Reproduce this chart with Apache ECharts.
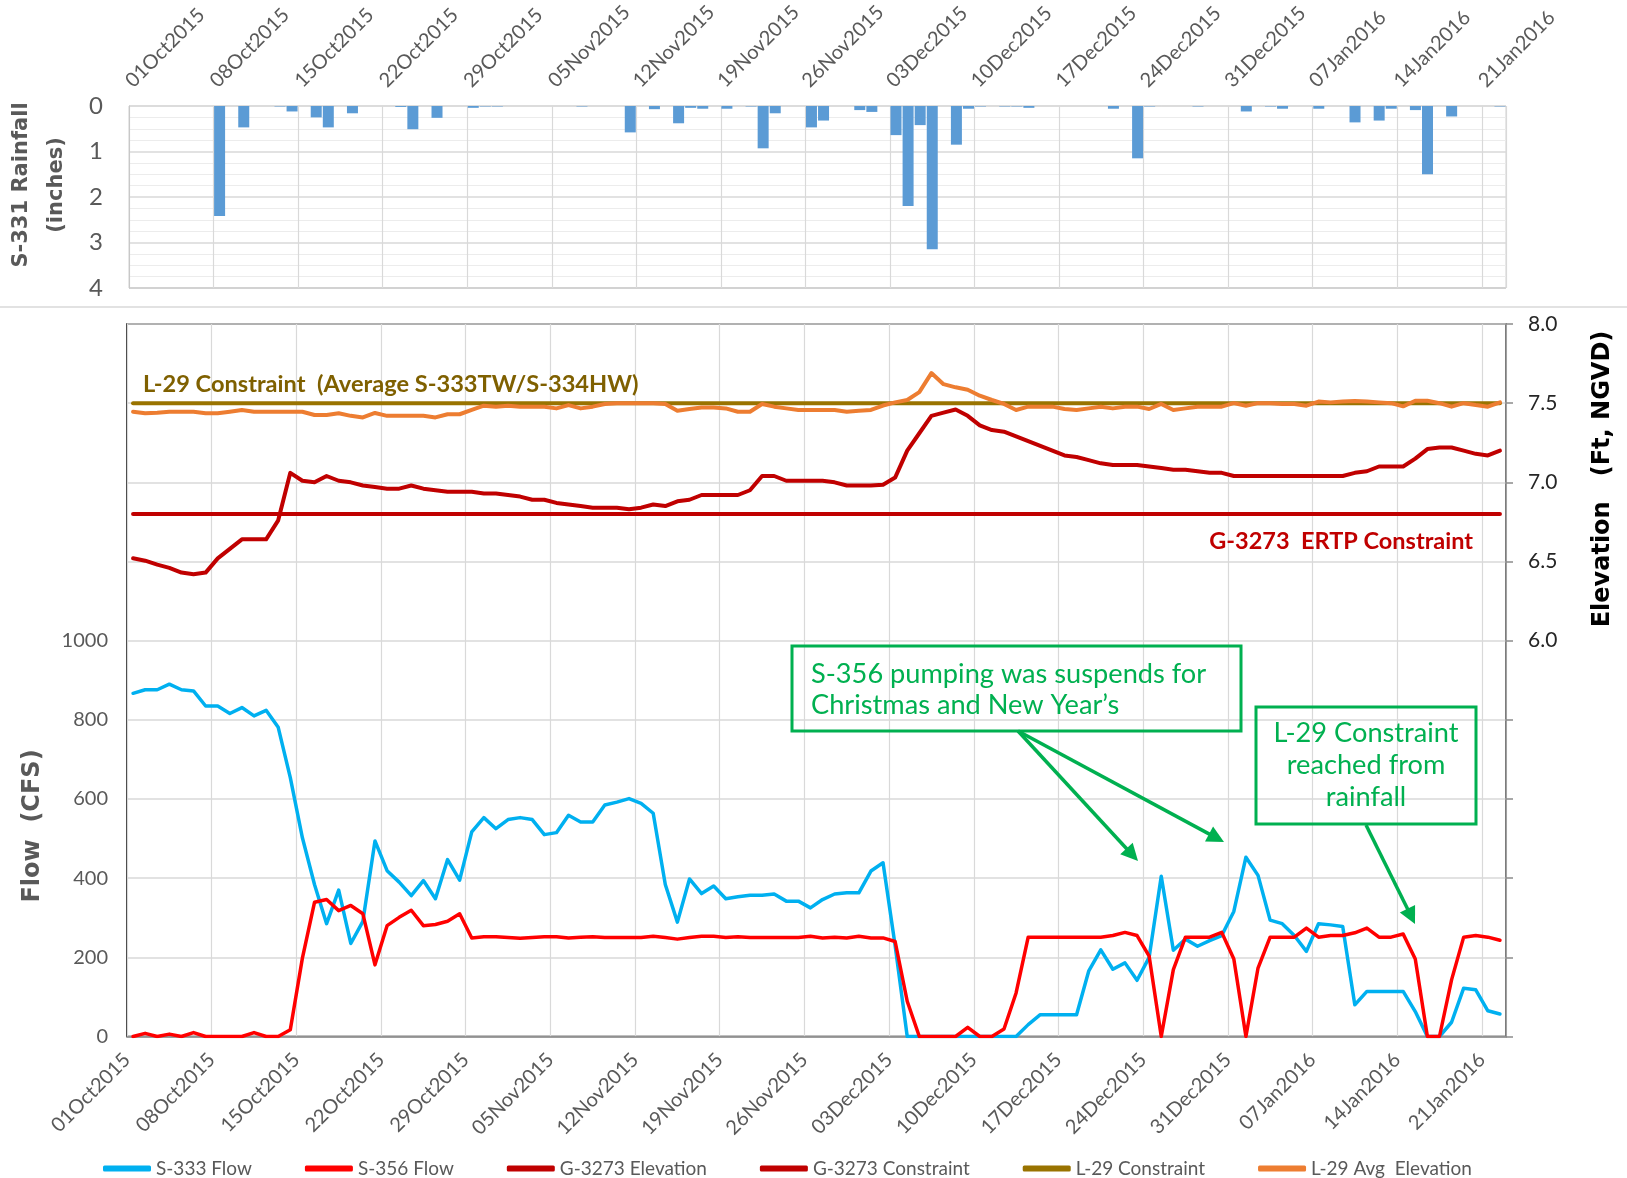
<!DOCTYPE html>
<html><head><meta charset="utf-8">
<script src="https://cdn.jsdelivr.net/npm/echarts@6/dist/echarts.min.js"></script>
<style>html,body{margin:0;padding:0;background:#fff}#c{width:1627px;height:1178px}</style>
</head><body><div id="c"></div>
<script>
// ---- data ----
const tickLabels = ['01Oct2015','08Oct2015','15Oct2015','22Oct2015','29Oct2015','05Nov2015','12Nov2015',
  '19Nov2015','26Nov2015','03Dec2015','10Dec2015','17Dec2015','24Dec2015','31Dec2015','07Jan2016','14Jan2016','21Jan2016'];
const dayCount = 114; // 01Oct2015 .. 22Jan2016

const rainfall = [
  0,0,0,0,0,0,0,2.42,0,0.47,
  0,0,0.01,0.12,0,0.25,0.47,0,0.16,0,
  0,0,0.02,0.51,0,0.26,0,0,0.04,0.01,
  0.01,0,0,0,0,0,0,0.01,0,0,
  0,0.58,0,0.07,0,0.38,0.04,0.06,0,0.06,
  0,0.01,0.93,0.16,0,0,0.47,0.32,0,0,
  0.09,0.13,0,0.64,2.2,0.42,3.15,0,0.85,0.06,
  0.01,0,0.01,0.01,0.04,0,0,0,0,0,
  0,0.06,0,1.15,0.01,0,0,0,0.01,0,
  0,0,0.12,0,0.01,0.06,0,0,0.06,0,
  0,0.36,0,0.32,0.06,0,0.09,1.5,0,0.23,
  0,0,0,0.01
];
const s333Flow = [
  867,876,876,890,876,873,835,835,816,831,
  810,824,781,654,502,384,285,370,235,291,
  494,419,390,356,394,348,447,395,517,553,
  525,548,553,548,510,515,559,542,542,585,
  592,601,589,564,384,289,398,361,380,348,
  353,357,357,360,342,342,325,346,360,363,
  363,418,439,230,0,0,0,0,0,0,
  0,0,0,0,30,55,55,55,55,165,
  219,170,186,142,200,405,218,246,228,242,
  255,316,453,407,294,285,255,215,285,282,
  278,80,114,114,114,114,63,0,0,36,
  122,118,65,57
];
const s356Flow = [
  0,8,0,6,0,10,0,0,0,0,
  10,0,0,17,198,339,346,318,331,310,
  181,280,301,319,280,283,291,310,249,252,
  252,250,248,250,252,252,249,251,252,250,
  250,250,250,253,250,246,250,253,253,250,
  252,250,250,250,250,250,253,249,251,249,
  253,249,249,240,89,0,0,0,0,23,
  0,0,19,110,251,251,251,251,251,251,
  251,255,263,255,203,0,169,251,251,251,
  263,196,0,173,251,251,251,274,251,255,
  255,262,274,251,251,259,196,0,0,143,
  251,255,251,243
];
const g3273Elev = [
  6.52,6.505,6.48,6.46,6.43,6.42,6.43,6.52,6.58,6.64,
  6.64,6.64,6.76,7.06,7.01,7.00,7.04,7.01,7.00,6.98,
  6.97,6.96,6.96,6.98,6.96,6.95,6.94,6.94,6.94,6.93,
  6.93,6.92,6.91,6.89,6.89,6.87,6.86,6.85,6.84,6.84,
  6.84,6.83,6.84,6.86,6.85,6.88,6.89,6.92,6.92,6.92,
  6.92,6.95,7.04,7.04,7.01,7.01,7.01,7.01,7.00,6.98,
  6.98,6.98,6.985,7.03,7.20,7.31,7.42,7.44,7.46,7.42,
  7.36,7.33,7.32,7.29,7.26,7.23,7.20,7.17,7.16,7.14,
  7.12,7.11,7.11,7.11,7.10,7.09,7.08,7.08,7.07,7.06,
  7.06,7.04,7.04,7.04,7.04,7.04,7.04,7.04,7.04,7.04,
  7.04,7.06,7.07,7.10,7.10,7.10,7.15,7.21,7.22,7.22,
  7.20,7.18,7.17,7.20
];
const l29AvgElev = [
  7.446,7.436,7.44,7.446,7.446,7.446,7.436,7.436,7.446,7.457,
  7.446,7.446,7.446,7.446,7.446,7.425,7.425,7.436,7.42,7.41,
  7.438,7.42,7.42,7.42,7.42,7.41,7.43,7.43,7.457,7.484,
  7.478,7.484,7.478,7.478,7.478,7.467,7.488,7.467,7.478,7.495,
  7.5,7.5,7.5,7.5,7.495,7.452,7.463,7.473,7.473,7.467,
  7.446,7.446,7.495,7.478,7.467,7.457,7.457,7.457,7.457,7.446,
  7.452,7.457,7.485,7.505,7.52,7.57,7.69,7.62,7.6,7.585,
  7.547,7.52,7.495,7.457,7.478,7.478,7.478,7.463,7.457,7.467,
  7.478,7.467,7.478,7.478,7.463,7.495,7.457,7.467,7.478,7.478,
  7.478,7.5,7.484,7.5,7.5,7.495,7.495,7.484,7.51,7.505,
  7.51,7.513,7.51,7.505,7.5,7.48,7.515,7.515,7.5,7.478,
  7.5,7.488,7.478,7.505
];
const g3273Constraint = 6.8;
const l29Constraint = 7.5;
const rainTicks = [0,1,2,3,4];
const flowTickLabels = ['0','200','400','600','800','1000'];
const elevTickLabels = ['6.0','6.5','7.0','7.5','8.0'];
const legendNames = ['S-333 Flow','S-356 Flow','G-3273 Elevation','G-3273 Constraint','L-29 Constraint','L-29 Avg  Elevation'];

[rainfall,s333Flow,s356Flow,g3273Elev,l29AvgElev].forEach((a,k)=>{ if(a.length!==dayCount) throw new Error('len '+k+' '+a.length); });

// ---- build ----
const pts = arr => arr.map((v,i)=>[i+0.5, v]);
const constPts = c => rainfall.map((_,i)=>[i+0.5, c]);
const dateFmt = v => (v % 7 === 0 && tickLabels[v/7] !== undefined) ? tickLabels[v/7] : '';
const GREEN = '#00B050';
const GRAY = '#595959';
const LF = 'Lato';

function arrow(x1,y1,x2,y2){
  const dx=x2-x1, dy=y2-y1, L=Math.hypot(dx,dy), ux=dx/L, uy=dy/L;
  const hl=17, hw=8.5, bx=x2-ux*hl, by=y2-uy*hl;
  return [
    {type:'line', z:100, shape:{x1:x1,y1:y1,x2:bx+ux*2,y2:by+uy*2}, style:{stroke:GREEN, lineWidth:3.5}},
    {type:'polygon', z:100, shape:{points:[[x2,y2],[bx-uy*hw,by+ux*hw],[bx+uy*hw,by-ux*hw]]}, style:{fill:GREEN}}
  ];
}

const lineS = (name, data, color, width, yIdx) => ({
  name, type:'line', xAxisIndex:1, yAxisIndex:yIdx, data, color, symbol:'none',
  lineStyle:{width, color, join:'round', cap:'round'}, emphasis:{disabled:true}
});

const option = {
  animation:false,
  backgroundColor:'#fff',
  grid:[
    {left:129, right:121, top:106, height:182, show:true, borderColor:'#d0d0d0', borderWidth:1, outerBoundsMode:'none'},
    {left:127, right:121, top:324, height:712.5, show:true, borderColor:'#000', borderWidth:1.5, outerBoundsMode:'none'}
  ],
  xAxis:[
    {gridIndex:0, type:'value', position:'top', min:0, max:dayCount, interval:7,
     axisLine:{show:false}, axisTick:{show:false},
     axisLabel:{rotate:45, formatter:dateFmt, margin:22, fontSize:20, color:GRAY, fontFamily:LF, showMaxLabel:false},
     splitLine:{show:true, lineStyle:{color:'#d9d9d9', width:1.2}}},
    {gridIndex:1, type:'value', position:'bottom', min:0, max:dayCount, interval:7,
     axisLine:{show:true, onZero:false, lineStyle:{color:'#8c8c8c', width:1.5}}, axisTick:{show:false},
     axisLabel:{rotate:45, formatter:dateFmt, margin:20, fontSize:20, color:GRAY, fontFamily:LF, showMaxLabel:false},
     splitLine:{show:true, lineStyle:{color:'#d9d9d9', width:1.2}}}
  ],
  yAxis:[
    {gridIndex:0, type:'value', inverse:true, min:rainTicks[0], max:rainTicks[rainTicks.length-1], interval:1,
     axisLine:{show:true, lineStyle:{color:'#c8c8c8'}}, axisTick:{show:false},
     axisLabel:{fontSize:24, color:GRAY, fontFamily:LF, margin:26},
     splitLine:{show:true, lineStyle:{color:'#d9d9d9', width:1.5}},
     minorTick:{show:false, splitNumber:4}, minorSplitLine:{show:true, lineStyle:{color:'#ececec', width:1.2}}},
    {gridIndex:1, type:'value', position:'left', min:0, max:1800, interval:200,
     axisLine:{show:false}, axisTick:{show:false},
     axisLabel:{fontSize:20, color:GRAY, fontFamily:LF, margin:19,
       formatter: v => flowTickLabels[v/200] || ''},
     splitLine:{show:true, lineStyle:{color:'#d9d9d9', width:1.5}}},
    {gridIndex:1, type:'value', position:'right', min:3.5, max:8, interval:0.5,
     axisLine:{show:true, lineStyle:{color:'#8c8c8c', width:1.5}},
     axisTick:{show:true, inside:false, length:7, lineStyle:{color:'#8c8c8c', width:1.5}},
     axisLabel:{fontSize:21, color:'#262626', fontFamily:LF, margin:22,
       formatter: v => { const s=v.toFixed(1); return elevTickLabels.indexOf(s)>=0 ? s : ''; }},
     splitLine:{show:false}}
  ],
  legend:{
    data:legendNames, left:98, top:1154, itemWidth:48, itemHeight:6, itemGap:53, icon:'roundRect',
    textStyle:{fontFamily:LF, fontSize:19, color:GRAY}, selectedMode:false
  },
  series:[
    {name:'S-331 Rainfall', type:'bar', xAxisIndex:0, yAxisIndex:0, data:pts(rainfall), barWidth:11,
     itemStyle:{color:'#5B9BD5'}, emphasis:{disabled:true}},
    lineS('S-333 Flow', pts(s333Flow), '#00B0F0', 3.5, 1),
    lineS('S-356 Flow', pts(s356Flow), '#FF0000', 3.5, 1),
    lineS('G-3273 Constraint', constPts(g3273Constraint), '#C00000', 4, 2),
    lineS('G-3273 Elevation', pts(g3273Elev), '#C00000', 4, 2),
    lineS('L-29 Constraint', constPts(l29Constraint), '#997300', 4, 2),
    lineS('L-29 Avg  Elevation', pts(l29AvgElev), '#ED7D31', 4, 2)
  ],
  graphic:[
    {type:'line', shape:{x1:0,y1:307,x2:1627,y2:307}, style:{stroke:'#d9d9d9', lineWidth:1.5}},
    {type:'line', shape:{x1:129,y1:288,x2:1506,y2:288}, style:{stroke:'#bfbfbf', lineWidth:2}},
    {type:'text', x:22, y:185, rotation:Math.PI/2, style:{text:'S-331 Rainfall', fontFamily:'DejaVu Sans', fontWeight:'bold', fontSize:21, fill:GRAY, align:'center', verticalAlign:'middle'}},
    {type:'text', x:57, y:185, rotation:Math.PI/2, style:{text:'(inches)', fontFamily:'DejaVu Sans', fontWeight:'bold', fontSize:21, fill:GRAY, align:'center', verticalAlign:'middle'}},
    {type:'text', x:33, y:826, rotation:Math.PI/2, style:{text:'Flow  (CFS)', fontFamily:'DejaVu Sans', fontWeight:'bold', fontSize:24, fill:GRAY, align:'center', verticalAlign:'middle'}},
    {type:'text', x:1603, y:479, rotation:Math.PI/2, style:{text:'Elevation   (Ft, NGVD)', fontFamily:'DejaVu Sans', fontWeight:'bold', fontSize:24, fill:'#000', align:'center', verticalAlign:'middle'}},
    {type:'text', z:100, x:143, y:384, style:{text:'L-29 Constraint  (Average S-333TW/S-334HW)', fontFamily:LF, fontWeight:'bold', fontSize:23.6, fill:'#7F6000', align:'left', verticalAlign:'middle'}},
    {type:'text', z:100, x:1473, y:541, style:{text:'G-3273  ERTP Constraint', fontFamily:LF, fontWeight:'bold', fontSize:23.5, fill:'#C00000', align:'right', verticalAlign:'middle'}},
    {type:'rect', z:100, shape:{x:792,y:646,width:449,height:85}, style:{fill:'none', stroke:GREEN, lineWidth:3}},
    {type:'text', z:100, x:811, y:689.5, style:{text:'S-356 pumping was suspends for\nChristmas and New Year\u2019s', fontFamily:LF, fontSize:27.2, lineHeight:31, fill:GREEN, align:'left', verticalAlign:'middle'}},
    {type:'rect', z:100, shape:{x:1256,y:707,width:220,height:117}, style:{fill:'none', stroke:GREEN, lineWidth:3}},
    {type:'text', z:100, x:1366, y:765.5, style:{text:'L-29 Constraint\nreached from\nrainfall', fontFamily:LF, fontSize:27.2, lineHeight:32, fill:GREEN, align:'center', verticalAlign:'middle'}},
    ...arrow(1018,731,1138,861),
    ...arrow(1018,731,1224,842),
    ...arrow(1366,825,1415,924)
  ]
};
const chart = echarts.init(document.getElementById('c'), null, {renderer:'canvas'});
chart.setOption(option);
</script></body></html>
